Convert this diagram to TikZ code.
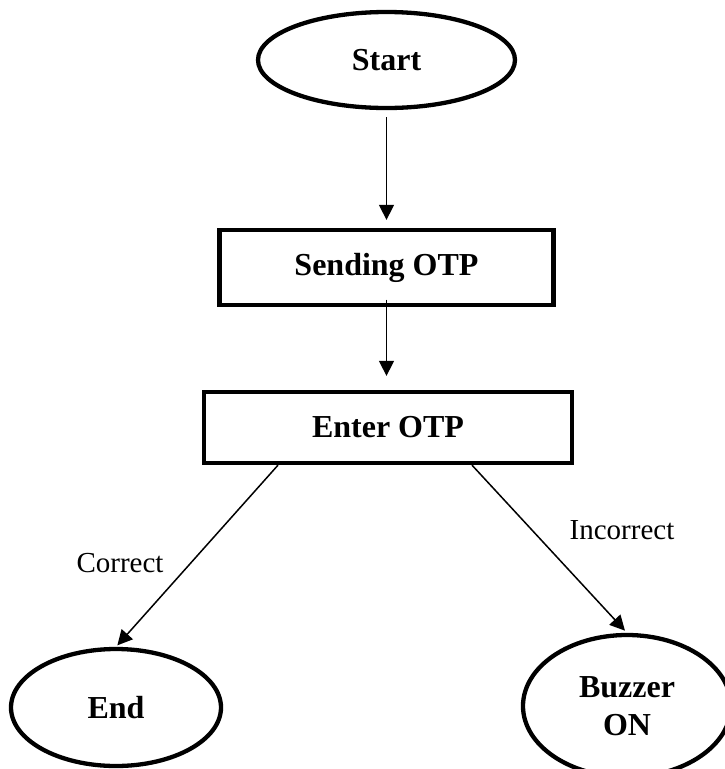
\documentclass[tikz,border=0pt]{standalone}
\usepackage{fontspec}
\setmainfont{Liberation Serif}
\usetikzlibrary{shapes.geometric,arrows.meta}

\tikzset{
  terminal/.style={ellipse, draw, line width=4.3pt, inner sep=0pt,
    font=\fontsize{32}{40}\selectfont\bfseries, align=center},
  process/.style={rectangle, draw, line width=4.3pt, inner sep=0pt,
    font=\fontsize{32}{40}\selectfont\bfseries},
  flow/.style={line width=1.5pt, -{Triangle[length=15pt,width=15pt]}},
  edgelabel/.style={font=\fontsize{29}{34}\selectfont, inner sep=0pt}
}

\begin{document}
\begin{tikzpicture}[x=1pt,y=-1pt]
  \path[use as bounding box] (0,0) rectangle (725,769);

  % flowchart boxes
  \node[terminal, minimum width=257pt, minimum height=96pt] (start) at (386.5,60) {Start};
  \node[process, minimum width=334pt, minimum height=75pt] (send) at (386.5,267.5) {Sending OTP};
  \node[process, minimum width=368pt, minimum height=71pt] (enter) at (388,427.5) {Enter OTP};
  \node[terminal, minimum width=210pt, minimum height=117pt] (end) at (116,707.5) {End};
  \node[terminal, minimum width=208pt, minimum height=142pt] (buzz) at (627,706) {Buzzer\\[-2pt]ON};

  % connectors
  \draw[flow, shorten <=7pt, shorten >=8pt] (start.south) -- (send.north);
  \draw[flow, shorten <=-7.5pt, shorten >=14pt] (send.south) -- (send.south |- enter.north);
  \draw[flow, shorten >=2pt] ([xshift=-110pt]enter.south) -- (end.north);
  \draw[flow, shorten >=3pt] ([xshift=84pt]enter.south) -- (buzz.north);

  % branch labels
  \node[edgelabel] (lcorrect) at (120,563) {Correct};
  \node[edgelabel] (lincorrect) at (622,530) {Incorrect};
\end{tikzpicture}
\end{document}
